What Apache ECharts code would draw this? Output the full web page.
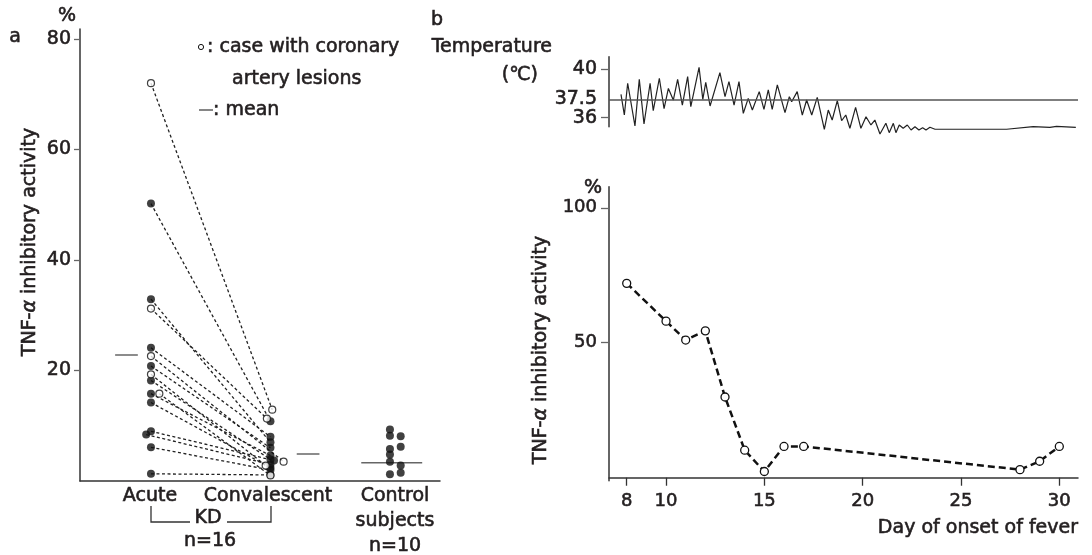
<!DOCTYPE html>
<html>
<head>
<meta charset="utf-8">
<script src="https://cdn.jsdelivr.net/npm/echarts@6.0.0/dist/echarts.min.js"></script>
<style>
  html, body { margin: 0; padding: 0; background: #fff; }
  #chart { width: 1092px; height: 555px; }
</style>
</head>
<body>
<div id="chart"></div>
<script>
// ---- panel a : TNF-α inhibitory activity (%) ----
// one entry per KD patient, acute value paired with convalescent value
const acuteVals = [72.0, 50.2, 32.9, 31.2, 24.1, 22.6, 20.8, 19.3, 18.2, 15.8, 15.8, 14.2, 9.0, 8.4, 6.1, 1.3];
const convVals  = [12.9, 10.8, 7.0, 11.3, 8.0, 3.5, 6.0, 2.8, 3.9, 4.6, 1.0, 2.4, 3.7, 3.0, 2.0, 1.1];
const calCase   = [1, 0, 0, 1, 0, 1, 0, 1, 0, 0, 1, 0, 0, 0, 0, 0]; // 1 = coronary artery lesions
const controlVals = [9.3, 8.2, 5.8, 4.8, 3.5, 1.2, 8.1, 6.2, 2.8, 1.5];
const groupMeans = [22.8, 4.9, 3.3]; // acute, convalescent, control

// ---- panel b : one patient ----
const tempDays = [7.71, 7.88, 8.05, 8.42, 8.64, 8.88, 9.19, 9.35, 9.66, 9.90,
  10.12, 10.37, 10.59, 10.83, 11.10, 11.26, 11.68, 11.87, 12.02, 12.24, 12.74,
  13.00, 13.20, 13.46, 13.71, 13.93, 14.18, 14.39, 14.74, 14.98, 15.20, 15.40, 15.66,
  16.05, 16.27, 16.39, 16.67, 16.93, 17.15, 17.41, 17.69, 18.05, 18.25, 18.45, 18.71, 18.93,
  19.14, 19.35, 19.64, 19.91, 20.17, 20.42, 20.62, 20.88, 21.18, 21.35, 21.56, 21.69, 21.86,
  22.06, 22.27, 22.46, 22.66, 22.86, 23.05, 23.22, 23.42, 23.68, 27.32, 28.67, 29.52, 29.86, 30.84];
const tempVals = [37.92, 36.22, 38.83, 35.32, 39.15, 35.48, 38.83, 36.58, 39.24, 36.74,
  38.4, 37.45, 39.15, 37.04, 39.37, 36.9, 40.14, 37.5, 38.9, 36.96, 39.7,
  37.73, 38.96, 37.04, 38.96, 36.36, 37.59, 36.63, 38.14, 36.69, 38.28, 36.69, 38.69,
  36.41, 37.73, 37.31, 38.14, 36.22, 37.45, 36.22, 37.67, 35.05, 36.63, 35.81, 37.4, 35.75,
  36.22, 35.13, 36.85, 35.13, 36.08, 35.4, 35.81, 34.66, 35.54, 34.77, 35.54, 34.77, 35.4,
  35.13, 35.4, 34.99, 35.26, 34.99, 35.18, 34.99, 35.21, 35.05, 35.05, 35.26, 35.21, 35.29, 35.21];
const feverDays   = [8, 10, 11, 12, 13, 14, 15, 16, 17, 28, 29, 30];
const tnfActivity = [72.0, 58.0, 51.0, 54.4, 29.9, 10.2, 2.3, 11.6, 11.6, 3.0, 6.1, 11.6];
const dayTicks = [8, 10, 15, 20, 25, 30];
const tempTicks = [36, 40];
const feverLine = 37.5;

// 组的横向位置 (acute = 1, convalescent = 2, control = 3)，重叠的点稍微错开
const acuteShift = [0, 0, 0, 0, 0, 0, 0, 0, 0, 0, 0.07, 0, 0, -0.04, 0, 0];
const convShift  = [0.015, 0, 0, -0.03, 0, 0.11, 0, -0.04, 0, 0, 0, 0, 0.03, 0, 0, 0];
const controlShift = [0, 0, 0, 0, 0, 0, 0.09, 0.09, 0.09, 0.09];

const FONT = '"DejaVu Sans", "Liberation Sans", sans-serif';
const INK = '#231f20';
const AXIS = '#333';

const chart = echarts.init(document.getElementById('chart'));

// 每个病人一条虚线
const pairSeries = acuteVals.map((a, i) => ({
  type: 'line', xAxisIndex: 0, yAxisIndex: 0, silent: true, symbol: 'none', z: 2,
  lineStyle: { color: '#222', width: 1.3, type: [3, 2.5] },
  data: [[1 + acuteShift[i], a], [2 + convShift[i], convVals[i]]]
}));

const meanSpans = [[0.70, 0.89], [2.22, 2.41], [2.76, 3.27]];
const meanSeries = groupMeans.map((m, i) => ({
  type: 'line', xAxisIndex: 0, yAxisIndex: 0, silent: true, symbol: 'none', z: 1,
  lineStyle: { color: '#666', width: 1.5 },
  data: [[meanSpans[i][0], m], [meanSpans[i][1], m]]
}));

const filledPts = [], openPts = [];
acuteVals.forEach((a, i) => {
  (calCase[i] ? openPts : filledPts).push([1 + acuteShift[i], a]);
  (calCase[i] ? openPts : filledPts).push([2 + convShift[i], convVals[i]]);
});
controlVals.forEach((c, i) => filledPts.push([3 + controlShift[i], c]));

// 字体稍微加粗一点
const axisLbl = { color: INK, fontSize: 19, fontFamily: FONT, textBorderColor: INK, textBorderWidth: 0.6,
  hideOverlap: false, showMinLabel: true, showMaxLabel: true };

const txt = (x, y, text, align, extra) => Object.assign({
  type: 'text', x: x, y: y,
  style: { text: text, font: '19px ' + FONT, fill: INK, stroke: INK, lineWidth: 0.6,
    align: align || 'center', verticalAlign: 'middle' }
}, extra || {});

const option = {
  animation: false,
  textStyle: { fontFamily: FONT, color: INK },
  grid: [
    { left: 80, top: 29, width: 360, height: 452 },
    { left: 609, top: 56.7, width: 469, height: 70 },
    { left: 609, top: 186.7, width: 469, height: 294 }
  ],
  xAxis: [
    { gridIndex: 0, type: 'value', min: 0.406, max: 3.419,
      axisLine: { lineStyle: { color: AXIS, width: 1.5 } },
      axisTick: { show: false }, axisLabel: { show: false }, splitLine: { show: false } },
    { gridIndex: 1, type: 'value', min: 7.1, max: 30.95, show: false, splitLine: { show: false } },
    { gridIndex: 2, type: 'value', min: 7.1, max: 30.95,
      axisLine: { lineStyle: { color: AXIS, width: 1.5 } },
      axisTick: { customValues: dayTicks, length: 8, lineStyle: { color: AXIS, width: 1.3 } },
      axisLabel: Object.assign({}, axisLbl, { customValues: dayTicks, margin: 12, fontSize: 18 }),
      splitLine: { show: false } }
  ],
  yAxis: [
    { gridIndex: 0, type: 'value', min: 0, max: 81.8,
      axisLine: { show: true, lineStyle: { color: AXIS, width: 1.5 } },
      axisTick: { show: true, customValues: [20, 40, 60, 80], length: 6, lineStyle: { color: '#666', width: 1.3 } },
      axisLabel: Object.assign({}, axisLbl, { customValues: [20, 40, 60, 80], margin: 9 }),
      splitLine: { show: false } },
    { gridIndex: 1, type: 'value', min: 35.26, max: 41.01,
      axisLine: { show: true, lineStyle: { color: AXIS, width: 1.5 } },
      axisTick: { show: true, customValues: tempTicks, length: 8, lineStyle: { color: '#666', width: 1.3 } },
      axisLabel: Object.assign({}, axisLbl, { customValues: tempTicks, margin: 12 }),
      splitLine: { show: false } },
    { gridIndex: 2, type: 'value', min: -1.1, max: 107.8,
      axisLine: { show: true, lineStyle: { color: AXIS, width: 1.5 } },
      axisTick: { show: true, customValues: [50, 100], length: 8, lineStyle: { color: '#666', width: 1.3 } },
      axisLabel: Object.assign({}, axisLbl, { customValues: [50, 100], margin: 12, fontSize: 18 }),
      splitLine: { show: false } }
  ],
  series: [
    ...pairSeries,
    ...meanSeries,
    { type: 'scatter', xAxisIndex: 0, yAxisIndex: 0, z: 3, symbolSize: 8,
      itemStyle: { color: '#111' }, data: filledPts },
    { type: 'scatter', xAxisIndex: 0, yAxisIndex: 0, z: 4, symbolSize: 7,
      itemStyle: { color: '#fff', borderColor: '#111', borderWidth: 1.2 }, data: openPts },
    // 体温曲线，37.5 的标签挂在参考线起点左边
    { type: 'line', xAxisIndex: 1, yAxisIndex: 1, symbol: 'none', clip: false, silent: true,
      lineStyle: { color: '#222', width: 1.2 },
      data: tempDays.map((d, i) => [d, tempVals[i]]),
      markLine: { silent: true, symbol: 'none',
        label: { show: true, position: 'start', distance: 12, formatter: String(feverLine),
          color: INK, fontSize: 19, fontFamily: FONT, textBorderColor: INK, textBorderWidth: 0.6 },
        lineStyle: { color: '#555', width: 1.5, type: 'solid' },
        data: [{ yAxis: feverLine }] } },
    // TNF-α 活性
    { type: 'line', xAxisIndex: 2, yAxisIndex: 2, symbol: 'circle', symbolSize: 8,
      lineStyle: { color: '#111', width: 2.5, type: [7, 4] },
      itemStyle: { color: '#fff', borderColor: '#111', borderWidth: 1.3 },
      data: feverDays.map((d, i) => [d, tnfActivity[i]]) }
  ],
  graphic: [
    txt(15, 37, 'a'),
    txt(67, 16, '%'),
    txt(30, 242, 'TNF-{i|α} inhibitory activity', 'center', { rotation: Math.PI / 2 }),
    // legend
    { type: 'circle', shape: { cx: 201, cy: 47, r: 2.6 }, style: { fill: '#fff', stroke: '#111', lineWidth: 1 } },
    txt(207, 47, ': case with coronary', 'left'),
    txt(232, 79, 'artery lesions', 'left'),
    { type: 'line', shape: { x1: 199, y1: 110, x2: 213, y2: 110 }, style: { stroke: '#444', lineWidth: 1.3 } },
    txt(213, 110, ': mean', 'left'),
    // x 方向分类
    txt(150, 496, 'Acute'),
    txt(268, 496, 'Convalescent'),
    txt(395, 496, 'Control'),
    txt(395, 521, 'subjects'),
    txt(395, 546, 'n=10'),
    txt(208, 518, 'KD'),
    txt(210, 541, 'n=16'),
    { type: 'polyline', shape: { points: [[151, 506], [151, 522], [190, 522]] }, style: { stroke: '#333', lineWidth: 1.3, fill: null } },
    { type: 'polyline', shape: { points: [[227, 522], [271, 522], [271, 506]] }, style: { stroke: '#333', lineWidth: 1.3, fill: null } },
    // panel b
    txt(431, 20, 'b', 'left'),
    txt(552, 47, 'Temperature', 'right'),
    txt(538, 75, '(℃)', 'right'),
    txt(593, 188, '%'),
    txt(541, 350, 'TNF-{i|α} inhibitory activity', 'center', { rotation: Math.PI / 2 }),
    txt(1078, 528, 'Day of onset of fever', 'right')
  ]
};

// α 用斜体
option.graphic.forEach(g => {
  if (g.type === 'text' && g.style.text.indexOf('{i|') >= 0) {
    g.style.rich = { i: { fontStyle: 'italic', fontSize: 19, fontFamily: FONT, fill: INK, stroke: INK, lineWidth: 0.6 } };
  }
});

chart.setOption(option);
</script>
</body>
</html>
